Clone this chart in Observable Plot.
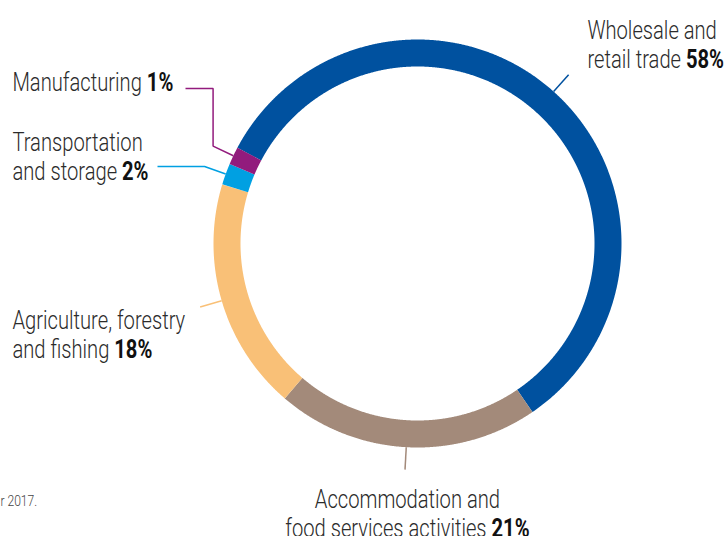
<!DOCTYPE html>
<html>
<head>
<meta charset="utf-8">
<script src="https://cdn.jsdelivr.net/npm/d3@7"></script>
<script src="https://cdn.jsdelivr.net/npm/@observablehq/plot@0.6"></script>
<style>
  html, body { margin: 0; padding: 0; background: #fff; }
  #chart svg { display: block; }
</style>
</head>
<body>
<div id="chart"></div>
<script>
// ---- data ----
const sectors = [
  "Wholesale and retail trade",
  "Accommodation and food services activities",
  "Agriculture, forestry and fishing",
  "Transportation and storage",
  "Manufacturing"
];
const shares = [57.7, 20.8, 18.4, 1.7, 1.4];
const percentLabels = ["58%", "21%", "18%", "2%", "1%"];
const labelLines = [
  ["Wholesale and", "retail trade"],
  ["Accommodation and", "food services activities"],
  ["Agriculture, forestry", "and fishing"],
  ["Transportation", "and storage"],
  ["Manufacturing"]
];
const colors = ["#00519F", "#A38A7A", "#F9C077", "#00A0E2", "#921B7D"];
const captionText = "r 2017.";

// ---- layout (pixels) ----
const W = 728, H = 536;
const geom = { cx: 417, cy: 243, rOuter: 204, rInner: 177, startDeg: -62, leaderOut: 1.11 };
const FONT = "Roboto, 'Liberation Sans', 'DejaVu Sans', sans-serif";
const FS = 25, LINE = 29;
const TARGET_WIDTH_MANUF = 161; // measured width of "Manufacturing 1%" in the reference
const labelLayout = [
  { x: 587, top: 18, anchor: "start" },
  { x: 407, top: 487, anchor: "middle" },
  { x: 12, top: 308, anchor: "start" },
  { x: 12, top: 130, anchor: "start", elbowX: 157 },
  { x: 12, top: 70, anchor: "start", elbowY: 88, elbowX: 185 }
];
const captionLayout = { x: 0, baseline: 505, size: 15 };

const toX = px => (px - geom.cx) / geom.rOuter;
const toY = py => (geom.cy - py) / geom.rOuter;

const rows = sectors.map((s, i) => ({ sector: s, share: shares[i], pct: percentLabels[i], lines: labelLines[i], layout: labelLayout[i] }));

const a0 = geom.startDeg * Math.PI / 180;
const arcs = d3.pie().sort(null).value(d => d.share).startAngle(a0).endAngle(a0 + 2 * Math.PI)(rows);

const rMid = (geom.rOuter + geom.rInner) / 2 / geom.rOuter;
const ringPts = arcs.flatMap(a => {
  const n = Math.max(2, Math.ceil((a.endAngle - a.startAngle) / 0.004));
  return d3.range(n + 1).map(i => {
    const t = a.startAngle + (a.endAngle - a.startAngle) * i / n;
    return { sector: a.data.sector, x: rMid * Math.sin(t), y: rMid * Math.cos(t) };
  });
});

const leaderPts = arcs.flatMap(a => {
  const m = (a.startAngle + a.endAngle) / 2;
  const L = a.data.layout;
  const p0 = { x: Math.sin(m), y: Math.cos(m) };
  const p1 = { x: geom.leaderOut * Math.sin(m), y: geom.leaderOut * Math.cos(m) };
  const pts = [p0, p1];
  if (L.elbowY !== undefined) {
    pts.push({ x: p1.x, y: toY(L.elbowY) });
    pts.push({ x: toX(L.elbowX), y: toY(L.elbowY) });
  } else if (L.elbowX !== undefined) {
    pts.push({ x: toX(L.elbowX), y: p1.y });
  }
  return pts.map(p => ({ ...p, sector: a.data.sector }));
});

const textRows = rows.map(r => {
  const lines = r.lines.slice();
  lines[lines.length - 1] = lines[lines.length - 1] + " |" + r.pct;
  return { sector: r.sector, anchor: r.layout.anchor, px: r.layout.x, x: toX(r.layout.x), y: toY(r.layout.top), text: lines.join("\n") };
});

const textOpts = {
  x: "x", y: "y", text: "text", fontFamily: FONT, fontSize: FS, fontWeight: 300,
  lineAnchor: "top", lineHeight: LINE / FS, fill: "#2b2b2b"
};

const chart = Plot.plot({
  width: W, height: H,
  margin: 0,
  x: { domain: [toX(0), toX(W)], axis: null },
  y: { domain: [toY(H), toY(0)], axis: null },
  color: { domain: sectors, range: colors },
  style: { background: "#fff" },
  marks: [
    Plot.line(ringPts, { x: "x", y: "y", z: "sector", stroke: "sector", strokeWidth: geom.rOuter - geom.rInner, strokeLinecap: "butt", strokeLinejoin: "round" }),
    Plot.line(leaderPts, { x: "x", y: "y", z: "sector", stroke: "sector", strokeWidth: 1.5, strokeLinecap: "butt", strokeLinejoin: "miter" }),
    ...textRows.map(d => Plot.text([d], { ...textOpts, textAnchor: d.anchor })),
    Plot.text([{ x: toX(captionLayout.x), y: toY(captionLayout.baseline), text: captionText }],
      { x: "x", y: "y", text: "text", fontFamily: FONT, fontSize: captionLayout.size, fontWeight: 300, textAnchor: "start", lineAnchor: "bottom", fill: "#444" })
  ]
});

// bold percentages
d3.select(chart).selectAll("text, tspan").each(function () {
  const el = this;
  if (el.childNodes.length === 1 && el.firstChild.nodeType === 3 && el.textContent.includes("|")) {
    const [a, b] = el.textContent.split("|");
    el.textContent = a;
    d3.select(el).append("tspan").attr("font-weight", "bold").attr("fill", "#111").text(b);
  }
});

document.getElementById("chart").appendChild(chart);

// condense the label text horizontally to match the reference's condensed typeface
const textGroups = d3.select(chart).selectAll('g[aria-label="text"]').nodes();
const manufText = textGroups[4].querySelector("text");
const sx = TARGET_WIDTH_MANUF / manufText.getBBox().width;
const anchorsPx = [...textRows.map(d => d.px), captionLayout.x];
textGroups.forEach((g, i) => {
  const ax = anchorsPx[i];
  const wrap = document.createElementNS("http://www.w3.org/2000/svg", "g");
  wrap.setAttribute("transform", `translate(${ax},0) scale(${sx},1) translate(${-ax},0)`);
  g.parentNode.insertBefore(wrap, g);
  wrap.appendChild(g);
});
</script>
</body>
</html>
